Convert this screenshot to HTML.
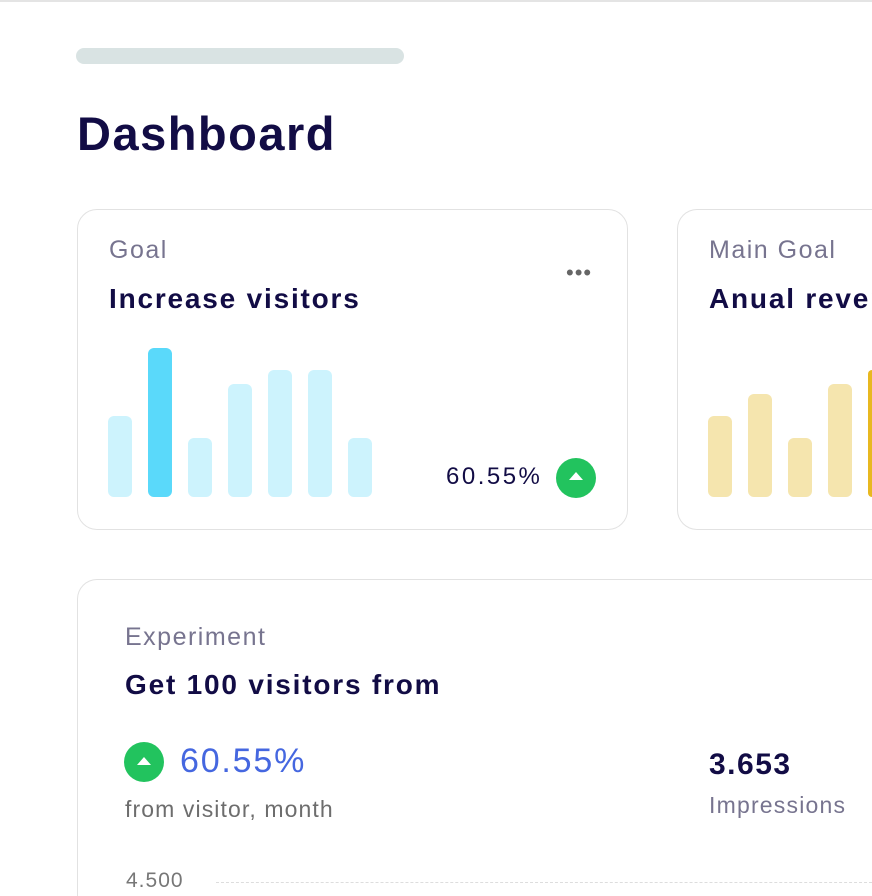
<!DOCTYPE html>
<html><head><style>
html,body{margin:0;padding:0;width:872px;height:896px;overflow:hidden;background:#fff}
#w{position:relative;width:872px;height:896px;overflow:hidden;font-family:"Liberation Sans",sans-serif}
.a{position:absolute;white-space:nowrap}
.card{position:absolute;border:1.5px solid #e2e2e2;border-radius:20px;background:#fff;box-sizing:border-box}
.lbl{color:#77748f;font-size:25px;letter-spacing:1.5px}
.ttl{color:#120c45;font-size:28px;font-weight:bold;letter-spacing:1.8px}
.bar{position:absolute;width:24px;border-radius:6px}
</style></head><body><div id="w">
<div class="a" style="left:0;top:0;width:872px;height:2px;background:#e4e4e4"></div>
<div class="a" style="left:76px;top:48px;width:328px;height:16px;border-radius:8px;background:#d9e3e3"></div>
<div class="a" style="left:77px;top:106px;font-size:47px;font-weight:bold;color:#120c45;letter-spacing:1.5px">Dashboard</div>

<div class="card" style="left:77px;top:209px;width:551px;height:321px"></div>
<div class="a lbl" style="left:109px;top:236px">Goal</div>
<div class="a ttl" style="left:109px;top:283px">Increase visitors</div>
<div class="a" style="left:566px;top:268px;color:#666;font-size:22px;letter-spacing:1px;line-height:10px">•••</div>
<div class="bar" style="left:108px;top:416px;height:81px;background:#cdf3fd"></div>
<div class="bar" style="left:148px;top:348px;height:149px;background:#5ad9fa"></div>
<div class="bar" style="left:188px;top:438px;height:59px;background:#cdf3fd"></div>
<div class="bar" style="left:228px;top:384px;height:113px;background:#cdf3fd"></div>
<div class="bar" style="left:268px;top:370px;height:127px;background:#cdf3fd"></div>
<div class="bar" style="left:308px;top:370px;height:127px;background:#cdf3fd"></div>
<div class="bar" style="left:348px;top:438px;height:59px;background:#cdf3fd"></div>
<div class="a" style="left:446px;top:463px;font-size:24px;color:#120c45;letter-spacing:2.5px">60.55%</div>
<div class="a" style="left:556px;top:458px;width:40px;height:40px;border-radius:50%;background:#22c35e"></div>
<div class="a" style="left:569px;top:472px;width:0;height:0;border-left:7px solid transparent;border-right:7px solid transparent;border-bottom:8px solid #fff"></div>

<div class="card" style="left:677px;top:209px;width:195px;height:321px;border-right:none;border-radius:20px 0 0 20px"></div>
<div class="a lbl" style="left:709px;top:236px">Main Goal</div>
<div class="a ttl" style="left:709px;top:283px;width:163px;overflow:hidden">Anual revenue</div>
<div class="bar" style="left:708px;top:416px;height:81px;background:#f5e5ae"></div>
<div class="bar" style="left:748px;top:394px;height:103px;background:#f5e5ae"></div>
<div class="bar" style="left:788px;top:438px;height:59px;background:#f5e5ae"></div>
<div class="bar" style="left:828px;top:384px;height:113px;background:#f5e5ae"></div>
<div class="a" style="left:868px;top:370px;width:4px;height:127px;border-radius:6px 0 0 6px;background:#e8b820"></div>

<div class="card" style="left:77px;top:579px;width:795px;height:317px;border-right:none;border-bottom:none;border-radius:20px 0 0 0"></div>
<div class="a lbl" style="left:125px;top:623px">Experiment</div>
<div class="a ttl" style="left:125px;top:669px">Get 100 visitors from</div>
<div class="a" style="left:124px;top:742px;width:40px;height:40px;border-radius:50%;background:#22c35e"></div>
<div class="a" style="left:137px;top:757px;width:0;height:0;border-left:7px solid transparent;border-right:7px solid transparent;border-bottom:8px solid #fff"></div>
<div class="a" style="left:180px;top:742px;font-size:34px;color:#4567e0;letter-spacing:1.8px">60.55%</div>
<div class="a" style="left:125px;top:796px;font-size:23px;color:#6d6d6d;letter-spacing:1.1px">from visitor, month</div>
<div class="a" style="left:709px;top:748px;font-size:30px;font-weight:bold;color:#120c45;letter-spacing:1.5px">3.653</div>
<div class="a" style="left:709px;top:792px;font-size:23px;color:#77748f;letter-spacing:1.2px">Impressions</div>
<div class="a" style="left:126px;top:869px;font-size:21px;color:#777;letter-spacing:1px;line-height:24px">4.500</div>
<div class="a" style="left:216px;top:882px;width:656px;border-top:1.5px dashed #ddd"></div>
</div></body></html>
